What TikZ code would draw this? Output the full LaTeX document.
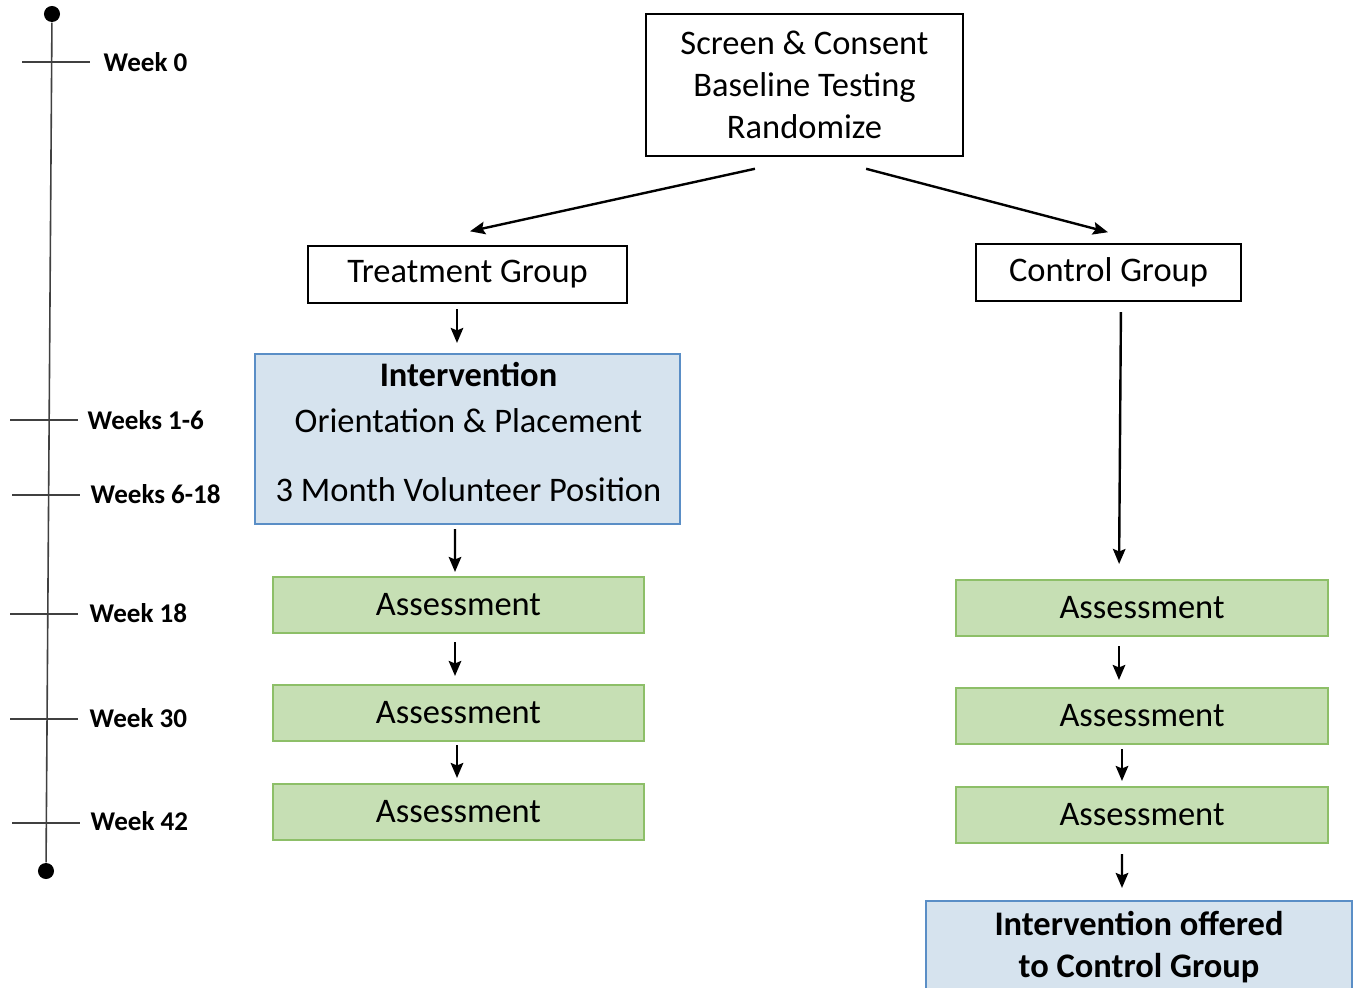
\documentclass[tikz,border=0pt]{standalone}
\usepackage{fontspec}
\setmainfont{Carlito}
\usetikzlibrary{arrows.meta,positioning}
\usepackage{xcolor}
\definecolor{intfill}{HTML}{D6E3EE}
\definecolor{intline}{HTML}{5A8EC6}
\definecolor{assfill}{HTML}{C6DFB4}
\definecolor{assline}{HTML}{8DBF68}

\begin{document}
\begin{tikzpicture}[x=0.01cm, y=-0.01cm,
    every node/.style={
        inner sep=0pt,
        font=\fontsize{9.8}{11.9}\selectfont
    },
    plainbox/.style={rectangle, draw=black, line width=0.02cm, fill=white},
    bluebox/.style={rectangle, draw=intline, line width=0.02cm, fill=intfill},
    greenbox/.style={rectangle, draw=assline, line width=0.02cm, fill=assfill,
        minimum width=3.71cm, minimum height=0.56cm},
    weeklabel/.style={anchor=west, font=\fontsize{7.7}{9}\selectfont\bfseries},
    tickline/.style={line width=0.016cm, draw=black!75},
    timedot/.style={circle, fill=black, minimum size=0.16cm},
    arrow/.style={-{Stealth[length=0.15cm, width=0.125cm, inset=0.025cm]}, line width=0.024cm}
]
    \useasboundingbox (0, 0) rectangle (1360, 988);
    \clip (0, 0) rectangle (1360, 988);

    % time line
    \node (timetop) [timedot, shift={(52, 14)}] {};
    \node (timebottom) [timedot, shift={(46, 871)}] {};
    \draw[tickline] (timetop) -- (timebottom);

    \draw[tickline] (22, 62) -- (90, 62);
    \draw[tickline] (10, 420) -- (78, 420);
    \draw[tickline] (12, 495) -- (80, 495);
    \draw[tickline] (10, 614) -- (78, 614);
    \draw[tickline] (10, 719) -- (78, 719);
    \draw[tickline] (12, 823) -- (80, 823);

    \node (week_0) [weeklabel, shift={(103, 62)}]
    {
        Week 0
    };
    \node (weeks_1_6) [weeklabel, shift={(87, 420)}]
    {
        Weeks 1-6
    };
    \node (weeks_6_18) [weeklabel, shift={(90, 494)}]
    {
        Weeks 6-18
    };
    \node (week_18) [weeklabel, shift={(89, 613)}]
    {
        Week 18
    };
    \node (week_30) [weeklabel, shift={(89, 718)}]
    {
        Week 30
    };
    \node (week_42) [weeklabel, shift={(90, 821)}]
    {
        Week 42
    };

    % boxes
    \node (screen) [plainbox, align=center, minimum width=3.17cm, minimum height=1.42cm, shift={(804.5, 85)}]
    {
        Screen \& Consent\\Baseline Testing\\Randomize
    };

    \node (treatment) [plainbox, minimum width=3.19cm, minimum height=0.57cm, shift={(467.5, 274.5)}]
    {
        Treatment Group
    };
    \node (control) [plainbox, minimum width=2.65cm, minimum height=0.57cm, shift={(1108.5, 272.5)}]
    {
        Control Group
    };

    \node (intervention) [bluebox, minimum width=4.25cm, minimum height=1.70cm, shift={(467.5, 439)}] {};
    \node (intervention_text) [align=center, shift={(468.5, 432)}]
    {
        \textbf{Intervention}\\[1.1pt]Orientation \& Placement\\[7.7pt]3 Month Volunteer Position
    };

    \node (treat_week18) [greenbox, shift={(458.5, 605)}]
    {
        Assessment
    };
    \node (treat_week30) [greenbox, shift={(458.5, 713)}]
    {
        Assessment
    };
    \node (treat_week42) [greenbox, shift={(458.5, 812)}]
    {
        Assessment
    };

    \node (control_week18) [greenbox, shift={(1142, 608)}]
    {
        Assessment
    };
    \node (control_week30) [greenbox, shift={(1142, 716)}]
    {
        Assessment
    };
    \node (control_week42) [greenbox, shift={(1142, 815)}]
    {
        Assessment
    };

    \node (offered) [bluebox, align=center, font=\fontsize{9.8}{11.9}\selectfont\bfseries,
        minimum width=4.26cm, minimum height=0.92cm, shift={(1139, 947)}]
    {
        Intervention offered\\to Control Group
    };

    % arrows
    \draw[arrow, shorten <=0.547cm, shorten >=0.638cm] ([xshift=0.039cm]screen.south) to ([xshift=-0.598cm]treatment.north);
    \draw[arrow, shorten <=0.463cm, shorten >=0.424cm] ([xshift=0.168cm]screen.south) to ([xshift=0.405cm]control.north);

    \draw[arrow, shorten <=0.05cm, shorten >=0.10cm] ([xshift=-0.105cm]treatment.south) to ([xshift=-0.105cm]intervention.north);
    \draw[arrow, shorten <=0.04cm, shorten >=0.04cm] ([xshift=-0.125cm]intervention.south) to ([xshift=-0.035cm]treat_week18.north);
    \draw[arrow, shorten <=0.08cm, shorten >=0.08cm] ([xshift=-0.035cm]treat_week18.south) to ([xshift=-0.035cm]treat_week30.north);
    \draw[arrow, shorten <=0.03cm, shorten >=0.05cm] ([xshift=-0.015cm]treat_week30.south) to ([xshift=-0.015cm]treat_week42.north);

    \draw[arrow, shorten <=0.10cm, shorten >=0.15cm] ([xshift=0.125cm]control.south) to ([xshift=-0.23cm]control_week18.north);
    \draw[arrow, shorten <=0.09cm, shorten >=0.07cm] ([xshift=-0.23cm]control_week18.south) to ([xshift=-0.23cm]control_week30.north);
    \draw[arrow, shorten <=0.04cm, shorten >=0.05cm] ([xshift=-0.20cm]control_week30.south) to ([xshift=-0.20cm]control_week42.north);
    \draw[arrow, shorten <=0.10cm, shorten >=0.12cm] ([xshift=-0.20cm]control_week42.south) to ([xshift=-0.17cm]offered.north);

\end{tikzpicture}
\end{document}
